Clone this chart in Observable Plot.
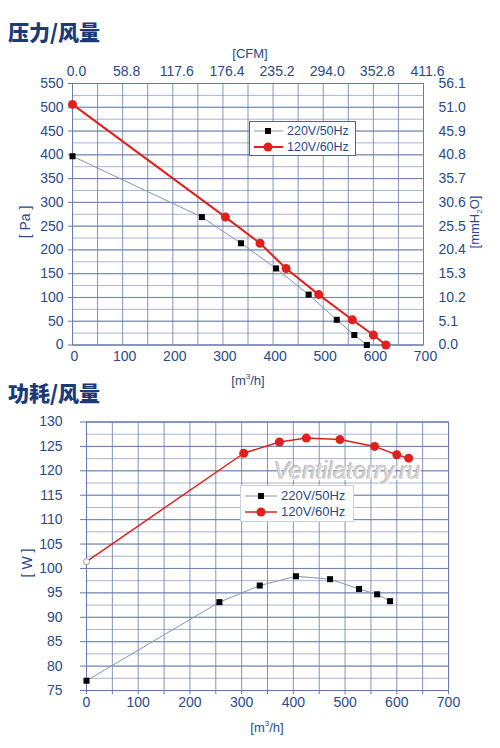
<!DOCTYPE html>
<html><head><meta charset="utf-8">
<script src="https://cdn.jsdelivr.net/npm/d3@7"></script>
<script src="https://cdn.jsdelivr.net/npm/@observablehq/plot@0.6"></script>
<style>
body{margin:0;background:#fff;}
#wrap{position:relative;width:500px;height:748px;overflow:hidden;background:#fff;font-family:"Liberation Sans",Arial,sans-serif;color:#2a4a8c;}
.abs{position:absolute;white-space:nowrap;line-height:1;}
.title{font-family:"Noto Sans CJK SC",sans-serif;font-weight:900;font-size:21px;color:#1c3a78;}
.rot{transform:translate(-50%,-50%) rotate(-90deg);}
.ctr{transform:translate(-50%,-50%);}
.leg{position:absolute;background:#fff;}
.leg .row{position:absolute;left:0;height:16px;}
.leg svg{position:absolute;left:0;top:0;}
.leg span{position:absolute;top:1px;line-height:14px;}
</style></head><body><div id="wrap"></div>
<script>
// ---------- data ----------
const flowTicks = [0, 100, 200, 300, 400, 500, 600, 700];
const cfmLabels = ["0.0", "58.8", "117.6", "176.4", "235.2", "294.0", "352.8", "411.6"];
const paTicks = [0, 50, 100, 150, 200, 250, 300, 350, 400, 450, 500, 550];
const mmLabels = ["0.0", "5.1", "10.2", "15.3", "20.4", "25.5", "30.6", "35.7", "40.8", "45.9", "51.0", "56.1"];
const wTicks = [75, 80, 85, 90, 95, 100, 105, 110, 115, 120, 125, 130];
const seriesNames = ["220V/50Hz", "120V/60Hz"];

// pressure / airflow
const flowP220 = [0, 258, 336, 406, 471, 527, 562, 587];
const pa220    = [397, 269, 214, 161, 106, 53, 21, 0];
const flowP120 = [0, 305, 374, 426, 491, 558, 600, 625];
const pa120    = [506, 269, 214, 161, 106, 53, 21, 0];

// power / airflow
const flowW220 = [0, 257, 335, 405, 471, 527, 562, 587];
const w220     = [77, 93.1, 96.5, 98.4, 97.8, 95.8, 94.7, 93.3];
const flowW120 = [0, 304, 373, 425, 490, 557, 600, 623];
const w120     = [101.4, 123.6, 125.9, 126.7, 126.4, 125.0, 123.3, 122.6];

// ---------- styles ----------
const textColor = "#2a4a8c";
const gridColor = "#6479ab";
const lineGray = "#8494b6";
const red = "#e0201c";

const zip = (xs, ys) => xs.map((x, i) => ({x, y: ys[i]}));
const P220 = zip(flowP220, pa220), P120 = zip(flowP120, pa120);
const W220 = zip(flowW220, w220), W120 = zip(flowW120, w120);

const wrap = document.getElementById("wrap");
const baseStyle = {fontFamily: "Liberation Sans, Arial, sans-serif", fontSize: "14px", color: textColor, background: "transparent", overflow: "visible"};

// ---------- top chart ----------
const chartTop = Plot.plot({
  width: 500, height: 390,
  marginLeft: 72, marginRight: 77, marginTop: 83, marginBottom: 45.5,
  style: baseStyle,
  x: {domain: [0, 700]},
  y: {domain: [0, 550]},
  marks: [
    Plot.gridY(d3.range(0, 551, 25), {stroke: gridColor, strokeOpacity: 0.55}),
    Plot.gridY(paTicks, {stroke: gridColor, strokeOpacity: 0.85}),
    Plot.gridX(d3.range(0, 701, 50), {stroke: gridColor, strokeOpacity: 0.8}),
    Plot.frame({stroke: gridColor, strokeOpacity: 0.9}),
    Plot.axisY({ticks: paTicks, tickSize: 4, tickPadding: 5, label: null, stroke: gridColor, fill: textColor}),
    Plot.axisY({anchor: "right", ticks: paTicks, tickSize: 0, tickPadding: 15, label: null, fill: textColor,
      tickFormat: d => mmLabels[paTicks.indexOf(d)]}),
    Plot.axisX({ticks: flowTicks, tickSize: 0, tickPadding: 6, dx: 2, label: null, fill: textColor}),
    Plot.axisX({anchor: "top", ticks: flowTicks, tickSize: 0, tickPadding: 8, dx: 4, label: null, fill: textColor,
      tickFormat: d => cfmLabels[flowTicks.indexOf(d)]}),
    Plot.line(P220, {x: "x", y: "y", stroke: lineGray, strokeWidth: 1}),
    Plot.line(P120, {x: "x", y: "y", stroke: red, strokeWidth: 2}),
    Plot.dot(P220, {x: "x", y: "y", symbol: "square", r: 3.4, fill: "#000", stroke: "none"}),
    Plot.dot(P120, {x: "x", y: "y", symbol: "circle", r: 4.5, fill: red, stroke: "none"})
  ]
});
chartTop.style.position = "absolute"; chartTop.style.left = "0px"; chartTop.style.top = "0px";
wrap.appendChild(chartTop);

// ---------- bottom chart ----------
const chartBottom = Plot.plot({
  width: 500, height: 348,
  marginLeft: 86, marginRight: 52, marginTop: 21.5, marginBottom: 58,
  style: baseStyle,
  x: {domain: [0, 700]},
  y: {domain: [75, 130]},
  marks: [
    Plot.gridY(d3.range(75, 130.1, 2.5), {stroke: gridColor, strokeOpacity: 0.55}),
    Plot.gridY(wTicks, {stroke: gridColor, strokeOpacity: 0.85}),
    Plot.gridX(d3.range(0, 701, 50), {stroke: gridColor, strokeOpacity: 0.8}),
    Plot.frame({stroke: gridColor, strokeOpacity: 0.9}),
    Plot.axisY({ticks: wTicks, tickSize: 6, tickPadding: 18, label: null, stroke: gridColor, fill: textColor}),
    Plot.axisX({ticks: d3.range(0, 701, 50), tickSize: 4, tickPadding: 3, label: null, stroke: gridColor, fill: textColor,
      tickFormat: d => d % 100 === 0 ? String(d) : ""}),
    Plot.line(W220, {x: "x", y: "y", stroke: lineGray, strokeWidth: 1}),
    Plot.line(W120, {x: "x", y: "y", stroke: red, strokeWidth: 1.5}),
    Plot.dot(W220, {x: "x", y: "y", symbol: "square", r: 3.4, fill: "#000", stroke: "none"}),
    Plot.dot(W120.slice(1), {x: "x", y: "y", symbol: "circle", r: 4.5, fill: red, stroke: "none"}),
    Plot.dot(W120.slice(0, 1), {x: "x", y: "y", symbol: "circle", r: 3, fill: "#fff", stroke: "#999", strokeWidth: 1})
  ]
});
chartBottom.style.position = "absolute"; chartBottom.style.left = "0px"; chartBottom.style.top = "400px";
wrap.appendChild(chartBottom);

// ---------- text ----------
function addText(html, cls, left, topPx, extra) {
  const d = document.createElement("div");
  d.className = "abs " + cls;
  d.style.left = left + "px"; d.style.top = topPx + "px";
  if (extra) Object.assign(d.style, extra);
  d.innerHTML = html;
  wrap.appendChild(d);
  return d;
}
addText("压力/风量", "title", 8, 21);
addText("功耗/风量", "title", 8, 382);
addText("[CFM]", "ctr", 250, 53, {fontSize: "13px"});
addText("[m<sup style='font-size:8px'>3</sup>/h]", "ctr", 248, 380, {fontSize: "13px"});
addText("[m<sup style='font-size:8px'>3</sup>/h]", "ctr", 267, 727, {fontSize: "13px"});
addText("[ Pa ]", "rot", 25, 222, {fontSize: "14px"});
addText("[mmH<sub style='font-size:8px'>2</sub>O]", "rot", 476, 222, {fontSize: "13px"});
addText("[ W ]", "rot", 27, 563, {fontSize: "14px"});
addText("Ventilatorry.ru", "", 274, 459, {fontSize: "24px", fontStyle: "italic", color: "#d4d4d4", textShadow: "1px 1px 0 #fff, -1px -1px 0 #bbb"});

// ---------- legends ----------
function legend(left, topPx, w, h, rows, fontSize, border) {
  const box = document.createElement("div");
  box.className = "leg";
  Object.assign(box.style, {left: left + "px", top: topPx + "px", width: w + "px", height: h + "px", border: border, fontSize: fontSize});
  rows.forEach(r => {
    const row = document.createElement("div");
    row.className = "row";
    row.style.top = r.y + "px";
    row.style.width = w + "px";
    const sw = r.sw;
    row.innerHTML = `<svg width="${sw.x2 + 2}" height="16"><line x1="${sw.x1}" x2="${sw.x2}" y1="8" y2="8" stroke="${r.stroke}" stroke-width="${r.sw.width}"/>` +
      (r.symbol === "square"
        ? `<rect x="${sw.m - 3}" y="5" width="6" height="6" fill="#000"/>`
        : `<circle cx="${sw.m}" cy="8" r="4.5" fill="${red}"/>`) +
      `</svg><span style="left:${r.tx}px">${r.name}</span>`;
    box.appendChild(row);
  });
  wrap.appendChild(box);
}
legend(249, 121, 105, 33, [
  {y: 1, name: seriesNames[0], stroke: lineGray, symbol: "square", sw: {x1: 4, x2: 33, m: 18, width: 1}, tx: 37},
  {y: 17, name: seriesNames[1], stroke: red, symbol: "circle", sw: {x1: 4, x2: 33, m: 18, width: 2}, tx: 37}
], "12.5px", "1px solid #4d63a0");
legend(240, 485, 112, 35, [
  {y: 2, name: seriesNames[0], stroke: lineGray, symbol: "square", sw: {x1: 4, x2: 36, m: 20, width: 1}, tx: 40},
  {y: 18, name: seriesNames[1], stroke: red, symbol: "circle", sw: {x1: 4, x2: 36, m: 20, width: 1.5}, tx: 40}
], "13px", "1px solid #c8d0e4");
</script>
</body></html>
